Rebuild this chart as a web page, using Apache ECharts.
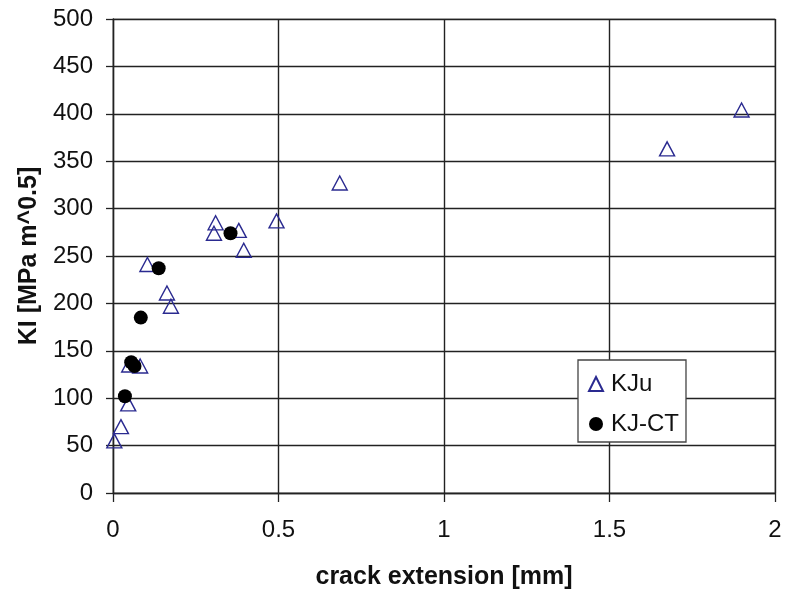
<!DOCTYPE html>
<html>
<head>
<meta charset="utf-8">
<script src="https://cdn.jsdelivr.net/npm/echarts@6/dist/echarts.min.js"></script>
<style>
  html, body { margin: 0; padding: 0; background: #fff; }
  #chart { width: 785px; height: 592px; }
</style>
</head>
<body>
<div id="chart"></div>
<script>
// Stress intensity KI versus crack extension
const xTicks = [0, 0.5, 1, 1.5, 2];
const yTicks = [0, 50, 100, 150, 200, 250, 300, 350, 400, 450, 500];

const kjuPoints = [
  [0.004, 55], [0.024, 70], [0.046, 94], [0.049, 135], [0.082, 134],
  [0.104, 241], [0.163, 211], [0.175, 197], [0.305, 274], [0.310, 285],
  [0.380, 277], [0.395, 256], [0.494, 287], [0.685, 327], [1.674, 363],
  [1.899, 404]
];
const kjctPoints = [
  [0.036, 102], [0.055, 138], [0.065, 134], [0.084, 185], [0.138, 237],
  [0.355, 274]
];

const font = '"Liberation Sans", Arial, sans-serif';
const ink = '#111';
const chart = echarts.init(document.getElementById('chart'));

chart.setOption({
  animation: false,
  backgroundColor: '#fff',
  grid: {
    left: 113, right: 10, top: 19, bottom: 99,
    outerBoundsMode: 'none', containLabel: false,
    show: true, borderColor: '#999', borderWidth: 1.2, backgroundColor: '#fff'
  },
  xAxis: {
    type: 'value', min: xTicks[0], max: xTicks[xTicks.length - 1], interval: 0.5,
    name: 'crack extension [mm]', nameLocation: 'middle', nameGap: 72,
    nameTextStyle: { fontFamily: font, fontSize: 25, fontWeight: 'bold', color: ink },
    axisLine: { show: true, onZero: false, lineStyle: { color: '#222', width: 1.3 } },
    axisTick: { show: true, length: 9, inside: false, lineStyle: { color: '#222', width: 1.3 } },
    axisLabel: { fontFamily: font, fontSize: 24, color: ink, margin: 25,
      formatter: v => String(v) },
    splitLine: { show: true, lineStyle: { color: '#222', width: 1.4 } }
  },
  yAxis: {
    type: 'value', min: yTicks[0], max: yTicks[yTicks.length - 1], interval: 50,
    name: 'KI [MPa m^0.5]', nameLocation: 'middle', nameGap: 71,
    nameTextStyle: { fontFamily: font, fontSize: 25, fontWeight: 'bold', color: ink },
    axisLine: { show: true, onZero: false, lineStyle: { color: '#222', width: 1.3 } },
    axisTick: { show: true, length: 7, lineStyle: { color: '#222', width: 1.3 } },
    axisLabel: { fontFamily: font, fontSize: 24, color: ink, margin: 20 },
    splitLine: { show: true, lineStyle: { color: '#222', width: 1.4 } }
  },
  legend: {
    orient: 'vertical', left: 578, top: 360,
    padding: [11, 7, 5, 10], itemGap: 14,
    backgroundColor: '#fff', borderColor: '#444', borderWidth: 1.3,
    itemWidth: 14, itemHeight: 14,
    textStyle: { fontFamily: font, fontSize: 24, lineHeight: 26, color: ink, padding: [0, 0, 0, 3] },
    data: [
      { name: 'KJu', icon: 'triangle' },
      { name: 'KJ-CT', icon: 'circle' }
    ]
  },
  series: [
    {
      name: 'KJu', type: 'scatter', symbol: 'triangle', symbolSize: [15, 14],
      itemStyle: { color: 'rgba(255,255,255,0)', borderColor: '#2a2a90', borderWidth: 1.4, opacity: 1 },
      data: kjuPoints, z: 3
    },
    {
      name: 'KJ-CT', type: 'scatter', symbol: 'circle', symbolSize: 14,
      itemStyle: { color: '#000', borderColor: '#000', borderWidth: 0, opacity: 1 },
      data: kjctPoints, z: 4
    }
  ]
});
</script>
</body>
</html>
